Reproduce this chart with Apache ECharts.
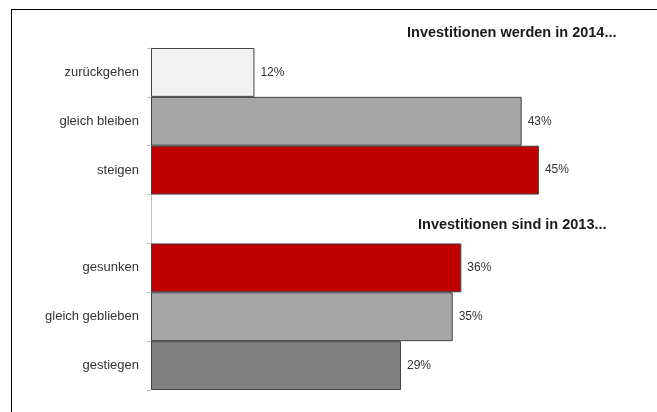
<!DOCTYPE html>
<html>
<head>
<meta charset="utf-8">
<script src="https://cdn.jsdelivr.net/npm/echarts@6/dist/echarts.min.js"></script>
<style>
  html, body { margin: 0; padding: 0; background: #ffffff; }
  #chart { width: 657px; height: 412px; }
</style>
</head>
<body>
<div id="chart"></div>
<script>
// Survey answers: expected investments 2014 (top) and actual investments 2013 (bottom).
// The empty category keeps a gap row between the two groups.
const categories = ['zurückgehen', 'gleich bleiben', 'steigen', '', 'gesunken', 'gleich geblieben', 'gestiegen'];
const shares = [12, 43, 45, null, 36, 35, 29];
const groupTitles = ['Investitionen werden in 2014...', 'Investitionen sind in 2013...'];

// Fill colour per answer row
const rowColors = ['#f2f2f2', '#a6a6a6', '#c00000', '#ffffff', '#c00000', '#a6a6a6', '#808080'];

const chart = echarts.init(document.getElementById('chart'), null, { renderer: 'canvas' });
const font = 'Liberation Sans, Arial, sans-serif';

chart.setOption({
  animation: false,
  backgroundColor: '#ffffff',
  grid: { left: 151, right: 75, top: 48, bottom: 22, containLabel: false },
  xAxis: {
    type: 'value',
    min: 0,
    max: 50,
    show: false
  },
  yAxis: {
    type: 'category',
    data: categories,
    inverse: true,
    axisLine: { show: true, lineStyle: { color: '#bfbfbf', width: 1 } },
    axisTick: { show: true, interval: 0, length: 4, lineStyle: { color: '#bfbfbf' } },
    axisLabel: { interval: 0, margin: 12, color: '#333333', fontFamily: font, fontSize: 13 },
    splitLine: { show: false }
  },
  series: [{
    type: 'bar',
    data: shares.map((v, i) => ({
      value: v,
      itemStyle: { color: rowColors[i] }
    })),
    barCategoryGap: '0%',
    itemStyle: { borderColor: '#404040', borderWidth: 1 },
    label: {
      show: true,
      position: 'right',
      distance: 6,
      color: '#333333',
      fontFamily: font,
      fontSize: 12,
      formatter: p => (p.value == null ? '' : p.value + '%')
    }
  }],
  graphic: [
    // frame lines along the top and left edges
    { type: 'line', shape: { x1: 11, y1: 9.5, x2: 657, y2: 9.5 }, style: { stroke: '#000000', lineWidth: 1 } },
    { type: 'line', shape: { x1: 11.5, y1: 9, x2: 11.5, y2: 412 }, style: { stroke: '#000000', lineWidth: 1 } },
    // group headings
    { type: 'text', left: 407, top: 25, style: { text: groupTitles[0], font: 'bold 14.5px ' + font, fill: '#1a1a1a' } },
    { type: 'text', left: 418, top: 217, style: { text: groupTitles[1], font: 'bold 14.5px ' + font, fill: '#1a1a1a' } }
  ]
});
</script>
</body>
</html>
